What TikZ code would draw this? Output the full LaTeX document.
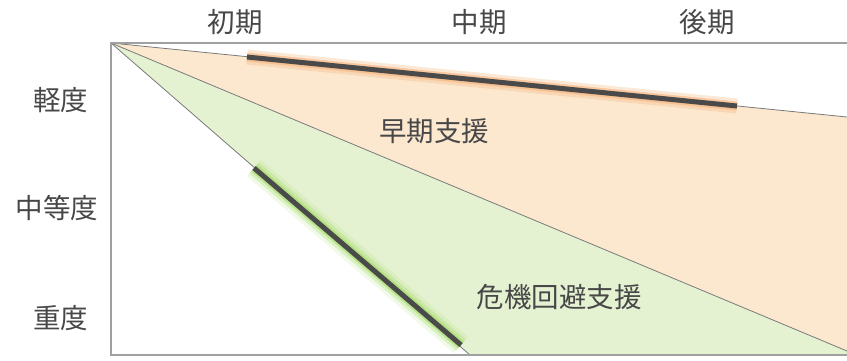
\documentclass[tikz,border=0pt]{standalone}
\usepackage{fontspec}
\setmainfont{Noto Sans CJK JP}
\definecolor{txt}{HTML}{474747}
\definecolor{frame}{HTML}{A0A0A0}
\definecolor{thin}{HTML}{7A7A7A}
\definecolor{orfill}{HTML}{FBE8CF}
\definecolor{grfill}{HTML}{E5F2D2}
\definecolor{orglow}{HTML}{F6B37C}
\definecolor{grglow}{HTML}{A3DA66}
\definecolor{bar}{HTML}{4A4A4A}
\tikzset{
  lbl/.style={font=\fontsize{27.5}{30}\selectfont, text=txt, inner sep=0pt},
  framebox/.style={draw=frame, line width=1.6pt},
  thinline/.style={draw=thin, line width=0.8pt},
  barline/.style={draw=bar, line width=5pt},
  glowC/.style={line width=22pt, opacity=0.15},
  glowA/.style={line width=15pt, opacity=0.3},
  glowB/.style={line width=9pt, opacity=0.6}
}
\begin{document}
\begin{tikzpicture}[x=1pt,y=-1pt]
\useasboundingbox (0,0) rectangle (847,360);
% coordinates
\coordinate (apex) at (111,43);
\coordinate (tr) at (847,43);
\coordinate (bl) at (111,355);
\coordinate (br) at (847,355);
\coordinate (upE) at (847,117);
\coordinate (midE) at (847,351);
\coordinate (lowE) at (470,355);
\coordinate (ob1) at (247,57);
\coordinate (ob2) at (737,106);
\coordinate (gb1) at (254,168);
\coordinate (gb2) at (461,345);
% fills
\fill[orfill] (apex) -- (upE) -- (midE) -- cycle;
\fill[grfill] (apex) -- (midE) -- (br) -- (lowE) -- cycle;
% glows
\draw[orglow, glowA] (ob1) -- (ob2);
\draw[orglow, glowB] (ob1) -- (ob2);
\draw[grglow, glowC] (gb1) -- (gb2);
\draw[grglow, glowA] (gb1) -- (gb2);
\draw[grglow, glowB] (gb1) -- (gb2);
% thin lines
\draw[thinline] (apex) -- (upE);
\draw[thinline] (apex) -- (midE);
\draw[thinline] (apex) -- (lowE);
% bars
\draw[barline] (ob1) -- (ob2);
\draw[barline] (gb1) -- (gb2);
% frame
\draw[framebox] (tr) -- (apex) -- (bl) -- (br);
% labels
\node[lbl] (h1) at (235,22) {初期};
\node[lbl] (h2) at (479,22) {中期};
\node[lbl] (h3) at (707,22) {後期};
\node[lbl] (v1) at (61,100) {軽度};
\node[lbl] (v2) at (57,208) {中等度};
\node[lbl] (v3) at (61,318) {重度};
\node[lbl] (t1) at (434,131) {早期支援};
\node[lbl] (t2) at (559,297) {危機回避支援};
\end{tikzpicture}
\end{document}
